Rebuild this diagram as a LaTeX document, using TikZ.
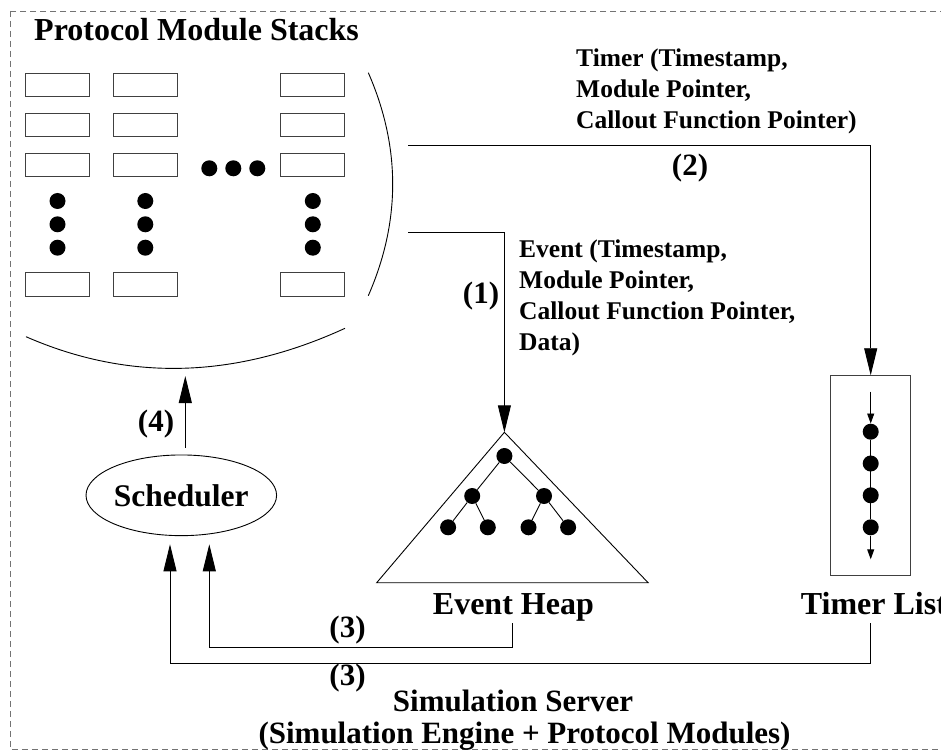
\documentclass[tikz,border=0pt]{standalone}
\usepackage{fontspec}
\setmainfont{Liberation Serif}
\usetikzlibrary{arrows.meta,shapes.geometric}

\begin{document}
\begin{tikzpicture}[x=1pt,y=-1pt,
  big/.style={font=\fontsize{31}{37}\selectfont\bfseries, inner sep=0pt},
  bigger/.style={font=\fontsize{32}{38}\selectfont\bfseries, inner sep=0pt},
  small/.style={font=\fontsize{25.5}{31}\selectfont\bfseries, inner sep=0pt},
  conn/.style={draw=black, line width=0.9pt},
  bigarrow/.style={conn, -{Triangle[length=27pt,width=13pt]}},
  tinyarrow/.style={conn, -{Triangle[length=10pt,width=7pt]}},
  modbox/.style={draw=black!75, line width=0.9pt, minimum width=64pt,
                 minimum height=23.5pt, inner sep=0pt},
  dot/.style={circle, fill=black, minimum size=16pt, inner sep=0pt},
  frame/.style={draw=black!55, line width=0.8pt, dash pattern=on 6pt off 4pt},
]
\useasboundingbox (0,0) rectangle (941,751);
\fill[white] (0,0) rectangle (941,751);

% outer frame of the simulation server
\draw[frame] (10,11) rectangle (980,749);

% ---------- protocol module stacks ----------
\node[bigger, anchor=base west] (title) at (34,40.7) {Protocol Module Stacks};

\foreach \c/\x in {a/57.5, b/145.3, c/312.8}{
  \foreach \r/\y in {1/85.2, 2/125, 3/165, 4/284.3}{
    \node[modbox] (m\c\r) at (\x,\y) {};
  }
  \foreach \k/\y in {1/201, 2/224.3, 3/247.7}{
    \node[dot] (v\c\k) at (\x,\y) {};
  }
}
\foreach \k/\x in {1/209.3, 2/233.3, 3/257.3}{
  \node[dot] (h\k) at (\x,168.3) {};
}

% enclosing arcs of the stack area
\draw[conn] (368.3,72.7) .. controls (400.8,147.0) and (400.8,221.4) .. (368.3,295.7);
\draw[conn] (26,336.7) .. controls (128.6,381.6) and (234.9,378.8) .. (345,328.3);

\coordinate (outT) at (408,145);
\coordinate (outE) at (408,232.3);
\coordinate (stackin) at (185.3,376);
\coordinate (schedout) at (185.3,447.7);

% ---------- event heap ----------
\coordinate (apex) at (504.4,432.3);
\coordinate (heapL) at (376.7,582.7);
\coordinate (heapR) at (648.1,582.7);
\draw[conn] (apex) -- (heapL) -- (heapR) -- cycle;
\node[dot] (r) at (504.4,456) {};
\node[dot] (l) at (472.2,496) {};
\node[dot] (rr) at (544,496) {};
\node[dot] (ll1) at (448.1,527.3) {};
\node[dot] (ll2) at (487.8,527.3) {};
\node[dot] (rl1) at (528.5,527.3) {};
\node[dot] (rl2) at (568.1,527.3) {};
\draw[conn] (r) -- (l) (r) -- (rr) (l) -- (ll1) (l) -- (ll2) (rr) -- (rl1) (rr) -- (rl2);
\node[bigger, anchor=base west] (heaplbl) at (432.7,614.5) {Event Heap};

% ---------- timer list ----------
\node[draw=black!75, line width=0.9pt, minimum width=80pt, minimum height=200pt,
      inner sep=0pt] (tlbox) at (870.7,475.7) {};
\coordinate (tlin) at (870.7,391.7);
\coordinate (tlend) at (870.7,559.3);
\node[dot] (t1) at (870.7,431.7) {};
\node[dot] (t2) at (870.7,463.5) {};
\node[dot] (t3) at (870.7,495.3) {};
\node[dot] (t4) at (870.7,527.3) {};
\draw[tinyarrow] (tlin) -- (t1.north);
\draw[conn] (t1) -- (t4);
\draw[tinyarrow] (t4) -- (tlend);
\node[bigger, anchor=base west] (tllbl) at (800.7,614.5) {Timer List};

% ---------- scheduler ----------
\node[draw, ellipse, line width=0.9pt, minimum width=184pt, minimum height=80.7pt,
      inner sep=0pt, font=\fontsize{31.5}{37}\selectfont\bfseries] (sched) at (181.3,495.3) {Scheduler};
\coordinate (sin1) at (209.3,544.3);
\coordinate (sin2) at (170,544.3);
\coordinate (ehout) at (512.7,623);
\coordinate (tlout) at (870.7,623);

% ---------- connectors ----------
\draw[bigarrow] (outE) -| (apex);
\draw[bigarrow] (outT) -| (tlbox.north);
\draw[bigarrow] (schedout) -- (stackin);
\draw[bigarrow] (ehout) -- ++(0,24) -| (sin1);
\draw[bigarrow] (tlout) -- ++(0,40) -| (sin2);

% ---------- labels (anchored at the baseline of the last line) ----------
\node[small, anchor=base west, align=left] (timertxt) at (576,128.3)
  {Timer (Timestamp,\\Module Pointer,\\Callout Function Pointer)};
\node[small, anchor=base west, align=left] (eventtxt) at (519,350.3)
  {Event (Timestamp,\\Module Pointer,\\Callout Function Pointer,\\Data)};
\node[big] (n1) at (481,296) {(1)};
\node[big] (n2) at (690,168) {(2)};
\node[big] (n3a) at (347.5,630) {(3)};
\node[big] (n3b) at (347.5,678) {(3)};
\node[big] (n4) at (156,424) {(4)};

\node[big, anchor=base west] (srv1) at (392.7,711.7) {Simulation Server};
\node[big, anchor=base west] (srv2) at (258.3,743.3) {(Simulation Engine + Protocol Modules)};
\end{tikzpicture}
\end{document}
